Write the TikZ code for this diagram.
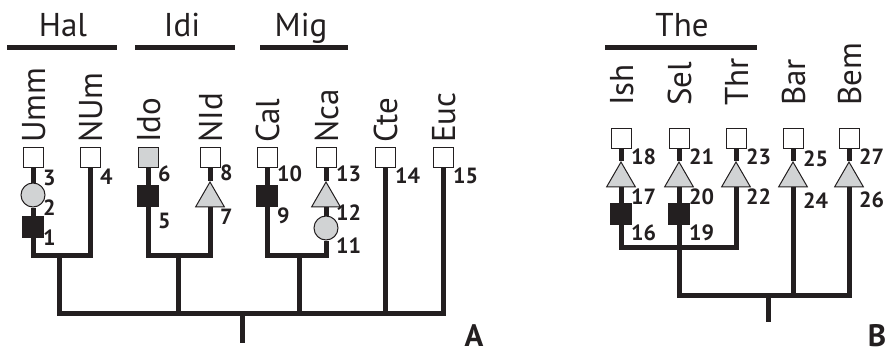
\documentclass[tikz,border=0pt]{standalone}
\usepackage{fontspec}
\setmainfont{PT Sans}
\usetikzlibrary{shapes.geometric}
\definecolor{ink}{HTML}{231F20}
\definecolor{fillgray}{HTML}{D1D3D4}

\begin{document}
\begin{tikzpicture}[
    x=1pt,y=-1pt,
    branch/.style={line width=5pt,draw=ink},
    cladebar/.style={line width=5pt,draw=ink},
    tipbox/.style={rectangle,draw=ink,line width=1pt,fill=white,inner sep=0pt,
        minimum size=20pt},
    blackbox/.style={rectangle,fill=ink,inner sep=0pt,minimum size=22pt},
    graydot/.style={circle,draw=ink,line width=1pt,fill=fillgray,inner sep=0pt,
        minimum size=24pt},
    graytri/.style={regular polygon,regular polygon sides=3,draw=ink,line width=1pt,
        fill=fillgray,inner sep=0pt,minimum size=33pt},
    taxon/.style={rotate=90,anchor=base west,inner sep=0pt,text=ink,
        font=\fontsize{33}{33}\selectfont},
    clade/.style={anchor=base,inner sep=0pt,text=ink,font=\fontsize{33}{33}\selectfont},
    num/.style={anchor=west,inner sep=0pt,text=ink,font=\fontsize{22}{22}\bfseries},
    panel/.style={anchor=base,inner sep=0pt,text=ink,font=\fontsize{31}{31}\bfseries}
]
    \useasboundingbox (0,0) rectangle (894,353);

    % Clade names with their bars.
    \foreach \name/\x/\bx/\w in {Hal/63/62/55,Idi/182/185/50,Mig/301/304/44,The/682/681/76} {
        \node[clade] (\name) at (\x,37) {\name};
        \draw[cladebar] (\bx-\w,48) -- (\bx+\w,48);
    }

    % Taxon names, panel A then panel B.
    \foreach \name/\x in {Umm/33,NUm/90,Ido/148,NId/210,Cal/267,Nca/326,Cte/385,Euc/443}
        \node[taxon] (t-\name) at (\x+12,143) {\name};
    \foreach \name/\x in {Ish/621,Sel/679,Thr/736,Bar/793,Bem/849}
        \node[taxon] (t-\name) at (\x+12,106) {\name};

    % Character-state markers, named after their numbers.
    \foreach \n/\x/\y in {3/33/157,4/90/157,8/210/157,10/267/157,13/326/157,
        14/385/157,15/443/157,18/621/138,21/679/138,23/736/138,25/793/138,27/849/138}
        \node[tipbox] (c\n) at (\x,\y) {};
    \node[tipbox,fill=fillgray] (c6) at (148,157) {};
    \foreach \n/\x/\y in {1/33/227,5/148/196,9/267/196,16/621/214,19/679/214}
        \node[blackbox] (c\n) at (\x,\y) {};
    \foreach \n/\x/\y in {2/33/195,11/326/228}
        \node[graydot] (c\n) at (\x,\y) {};
    \foreach \n/\x/\y in {7/210/198.5,12/326/198.5,17/621/178.5,20/679/178.5,
        22/736/178.5,24/793/178.5,26/849/178.5}
        \node[graytri] (c\n) at (\x,\y) {};

    % Numbers beside the markers.
    \foreach \n/\x/\y in {3/33/178,2/33/208,1/33/238,4/90/177,6/148/174,5/148/221,
        8/210/173,7/210/217,10/267/174,9/267/216,13/326/174,12/326/213,11/326/246,
        14/385/176,15/443/176,18/621/157,17/621/197,16/621/233,21/679/157,
        20/679/197,19/679/233,23/736/157,22/736/197,25/793/159,24/793/201,
        27/849/157,26/849/200}
        \node[num] (l\n) at (\x+10,\y) {\n};

    % Tree of panel A.
    \coordinate (jHal) at (59,255);
    \coordinate (jIdi) at (178,255);
    \coordinate (jMig) at (299,255);
    \coordinate (rootA) at (242,313);
    \coordinate (baseA) at (242,343);
    \draw[branch] (c3) -- (c2);
    \draw[branch] (c2) -- (c1);
    \draw[branch] (c1) |- (jHal) -| (c4);
    \draw[branch] (c6) -- (c5);
    \draw[branch] (c8) -- (c7);
    \draw[branch] (c5) |- (jIdi) -| (c7);
    \draw[branch] (c10) -- (c9);
    \draw[branch] (c13) -- (c12);
    \draw[branch] (c12) -- (c11);
    \draw[branch] (c9) |- (jMig) -| (c11);
    \draw[branch] (jHal) |- (rootA) -| (c15);
    \draw[branch] (jIdi) -- (jIdi |- rootA);
    \draw[branch] (jMig) -- (jMig |- rootA);
    \draw[branch] (c14) -- (c14 |- rootA);
    \draw[branch] (rootA) -- (baseA);

    % Tree of panel B.
    \coordinate (jThe) at (679,247);
    \coordinate (rootB) at (768,295);
    \coordinate (baseB) at (768,322);
    \draw[branch] (c18) -- (c17);
    \draw[branch] (c17) -- (c16);
    \draw[branch] (c21) -- (c20);
    \draw[branch] (c20) -- (c19);
    \draw[branch] (c23) -- (c22);
    \draw[branch] (c25) -- (c24);
    \draw[branch] (c27) -- (c26);
    \draw[branch] (c16) |- (jThe) -| (c22);
    \draw[branch] (c19) |- (rootB) -| (c26);
    \draw[branch] (c24) -- (c24 |- rootB);
    \draw[branch] (rootB) -- (baseB);

    % Panel letters.
    \node[panel] (panelA) at (474,346) {A};
    \node[panel] (panelB) at (877,346) {B};
\end{tikzpicture}
\end{document}
